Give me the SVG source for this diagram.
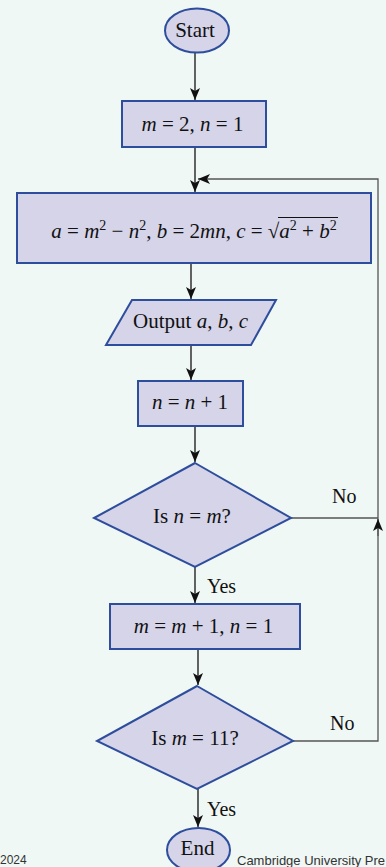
<svg xmlns="http://www.w3.org/2000/svg" width="386" height="867" viewBox="0 0 386 867">
<style>
.bg{fill:#eff8f5}
.node{fill:#d5d4e8;stroke:#2e4d9c;stroke-width:2}
.t{font-family:"Liberation Serif","Times New Roman",serif;font-size:21px;fill:#111}
.i{font-style:italic}
.sup{font-size:14px}
.lbl{font-family:"Liberation Serif","Times New Roman",serif;font-size:20px;fill:#111}
.c{fill:none;stroke:#111;stroke-width:1.3}
.fb{fill:none;stroke:#555;stroke-width:1.3}
.foot{font-family:"Liberation Sans",Arial,sans-serif;font-size:12px;fill:#333}
.foot2{font-family:"Liberation Sans",Arial,sans-serif;font-size:13px;fill:#333}
</style>
<defs>
<marker id="ah" viewBox="0 0 12 10" refX="12" refY="5" markerWidth="12" markerHeight="10" orient="auto" markerUnits="userSpaceOnUse">
<path d="M0,0 L12,5 L0,10 L3,5 Z" fill="#111"/>
</marker>
</defs>
<rect class="bg" x="0" y="0" width="386" height="867"/>

<g id="connectors">
<path class="c" d="M195,53 V100" marker-end="url(#ah)"/>
<path class="c" d="M195,147 V192" marker-end="url(#ah)"/>
<path class="c" d="M191,263 V299" marker-end="url(#ah)"/>
<path class="c" d="M191,345 V380" marker-end="url(#ah)"/>
<path class="c" d="M195,426 V462" marker-end="url(#ah)"/>
<path class="c" d="M195,567 V603" marker-end="url(#ah)"/>
<path class="c" d="M198,649 V685" marker-end="url(#ah)"/>
<path class="c" d="M198,789 V827" marker-end="url(#ah)"/>
<path class="fb" d="M291,518 H378"/>
<path class="fb" d="M293,741 H378 V179 H198" marker-end="url(#ah)"/>
<path class="fb" d="M378,536 V519" marker-end="url(#ah)"/>
<text class="lbl" x="332" y="503">No</text>
<text class="lbl" x="330" y="730">No</text>
<text class="lbl" x="207" y="593">Yes</text>
<text class="lbl" x="207" y="816">Yes</text>
</g>

<g id="start">
<ellipse class="node" cx="197" cy="30.5" rx="32" ry="22"/>
<text class="t" x="195" y="37" text-anchor="middle">Start</text>
</g>

<g id="init">
<rect class="node" x="122" y="101" width="144" height="46"/>
<text class="t" x="192.5" y="131" text-anchor="middle"><tspan class="i">m</tspan> = 2, <tspan class="i">n</tspan> = 1</text>
</g>

<g id="compute">
<rect class="node" x="17" y="193" width="354" height="70"/>
<text class="t" x="194" y="238" text-anchor="middle"><tspan class="i">a</tspan> = <tspan class="i">m</tspan><tspan class="sup" dy="-8">2</tspan><tspan dy="8"> − </tspan><tspan class="i">n</tspan><tspan class="sup" dy="-8">2</tspan><tspan dy="8">, </tspan><tspan class="i">b</tspan> = 2<tspan class="i">mn</tspan>, <tspan class="i">c</tspan> = √<tspan class="i">a</tspan><tspan class="sup" dy="-8">2</tspan><tspan dy="8"> + </tspan><tspan class="i">b</tspan><tspan class="sup" dy="-8">2</tspan></text>
<path d="M278,217.5 H338" stroke="#111" stroke-width="1"/>
</g>

<g id="output">
<polygon class="node" points="132,300 276,300 251,345 106,345"/>
<text class="t" x="190.5" y="328" text-anchor="middle">Output <tspan class="i">a</tspan>, <tspan class="i">b</tspan>, <tspan class="i">c</tspan></text>
</g>

<g id="incn">
<rect class="node" x="138" y="381" width="105" height="45"/>
<text class="t" x="190" y="409" text-anchor="middle"><tspan class="i">n</tspan> = <tspan class="i">n</tspan> + 1</text>
</g>

<g id="dec1">
<polygon class="node" points="195,463 291,518 195,567 94,518"/>
<text class="t" x="192" y="523" text-anchor="middle">Is <tspan class="i">n</tspan> = <tspan class="i">m</tspan>?</text>
</g>

<g id="incm">
<rect class="node" x="110" y="604" width="190" height="45"/>
<text class="t" x="203.5" y="633" text-anchor="middle"><tspan class="i">m</tspan> = <tspan class="i">m</tspan> + 1, <tspan class="i">n</tspan> = 1</text>
</g>

<g id="dec2">
<polygon class="node" points="197,686 293,741 197,789 97,741"/>
<text class="t" x="195" y="745" text-anchor="middle">Is <tspan class="i">m</tspan> = 11?</text>
</g>

<g id="end">
<ellipse class="node" cx="198.5" cy="850" rx="31.5" ry="22"/>
<text class="t" x="197.5" y="855" text-anchor="middle">End</text>
</g>

<text class="foot" x="0" y="864">2024</text>
<text class="foot2" x="237" y="865">Cambridge University Pre</text>
</svg>
